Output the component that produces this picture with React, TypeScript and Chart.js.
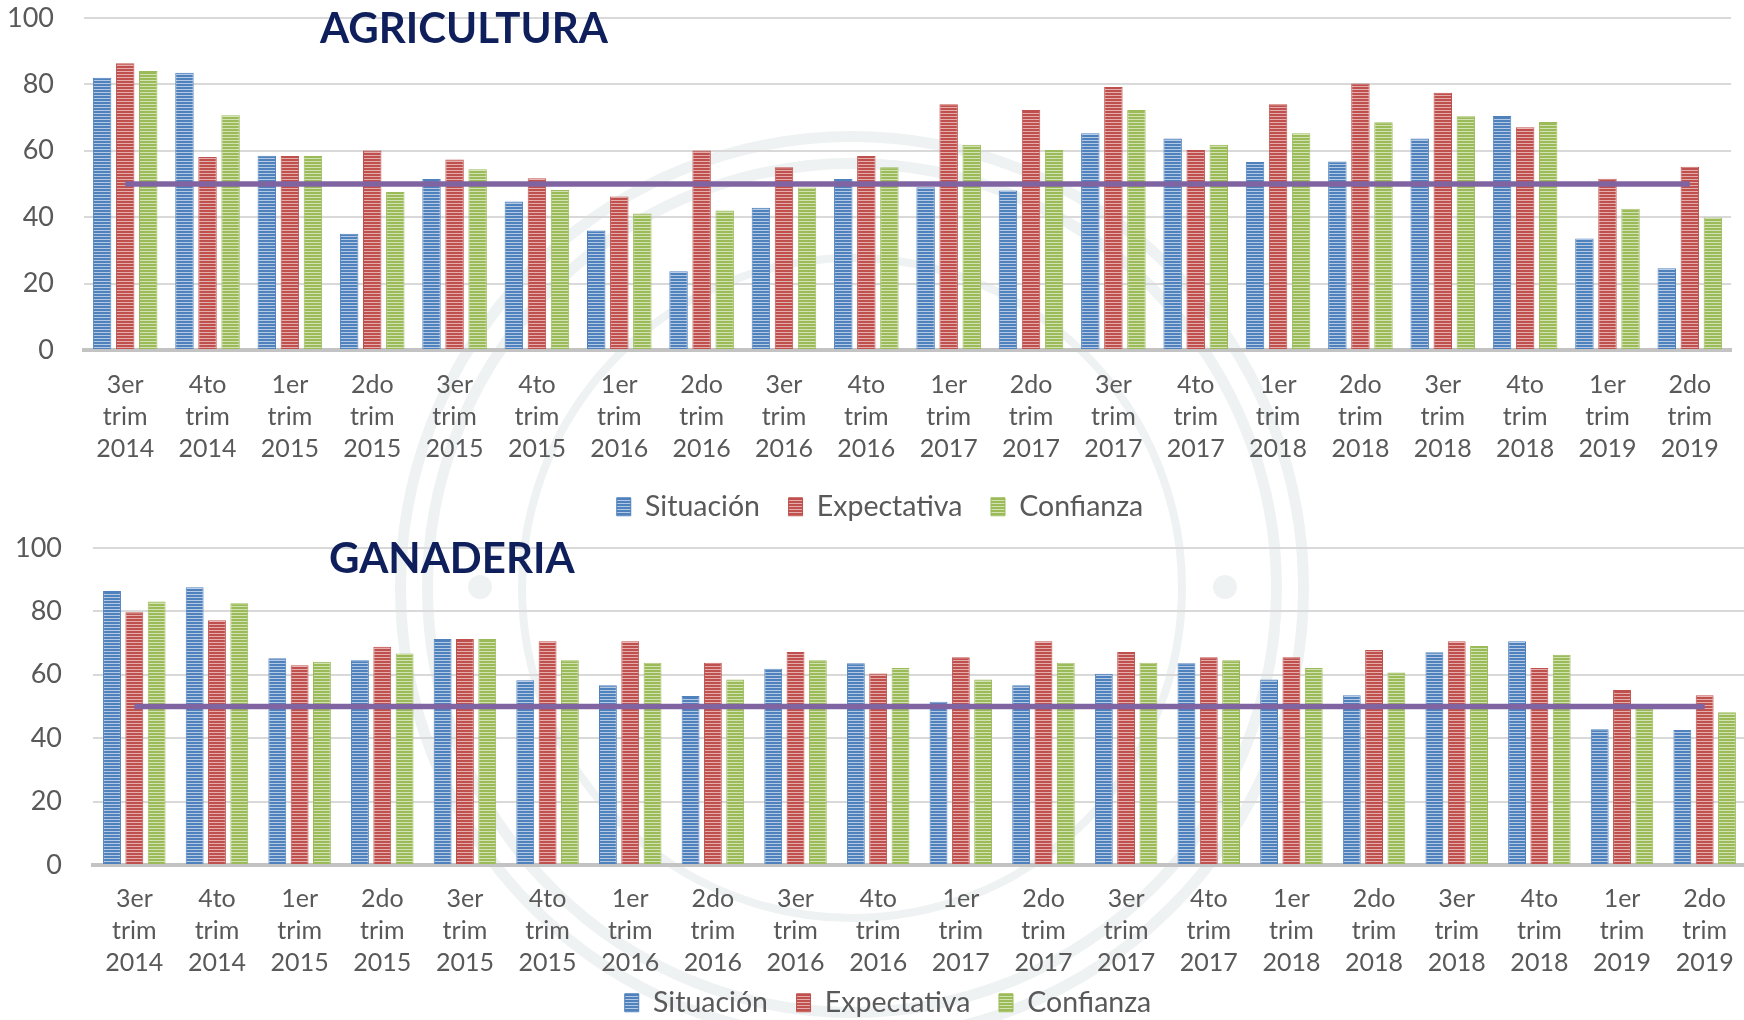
import React, { useEffect, useRef } from "react";
import { Chart, registerables } from "chart.js";

Chart.register(...registerables);

// ---------- DATA ----------
const categories: string[][] = [
  ["3er", "trim", "2014"], ["4to", "trim", "2014"],
  ["1er", "trim", "2015"], ["2do", "trim", "2015"], ["3er", "trim", "2015"], ["4to", "trim", "2015"],
  ["1er", "trim", "2016"], ["2do", "trim", "2016"], ["3er", "trim", "2016"], ["4to", "trim", "2016"],
  ["1er", "trim", "2017"], ["2do", "trim", "2017"], ["3er", "trim", "2017"], ["4to", "trim", "2017"],
  ["1er", "trim", "2018"], ["2do", "trim", "2018"], ["3er", "trim", "2018"], ["4to", "trim", "2018"],
  ["1er", "trim", "2019"], ["2do", "trim", "2019"],
];

const seriesNames = ["Situación", "Expectativa", "Confianza"];

const agriSituacion = [82, 83.5, 58.5, 35, 51.5, 44.7, 36, 23.7, 42.8, 51.5, 49, 48, 65.3, 63.7, 56.6, 56.8, 63.7, 70.5, 33.6, 24.6];
const agriExpectativa = [86.4, 58.1, 58.4, 60.1, 57.4, 51.7, 46.2, 60.1, 55, 58.4, 74, 72.3, 79.2, 60.2, 74, 80.3, 77.5, 67.1, 51.6, 55.2];
const agriConfianza = [84, 70.7, 58.4, 47.6, 54.4, 48.2, 41.1, 42, 48.9, 55, 61.8, 60.2, 72.3, 61.8, 65.3, 68.6, 70.4, 68.7, 42.5, 39.9];

const ganSituacion = [86.4, 87.6, 65.2, 64.6, 71.3, 58.3, 56.7, 53.3, 61.9, 63.6, 51.5, 56.7, 60.3, 63.6, 58.5, 53.5, 67.1, 70.6, 42.8, 42.6];
const ganExpectativa = [79.7, 77.2, 63, 68.8, 71.3, 70.6, 70.6, 63.8, 67.2, 60.4, 65.5, 70.6, 67.2, 65.5, 65.5, 67.8, 70.6, 62.1, 55.2, 53.5];
const ganConfianza = [83.1, 82.6, 64.1, 66.7, 71.3, 64.6, 63.8, 58.5, 64.6, 62.1, 58.5, 63.8, 63.8, 64.6, 62.1, 60.7, 69.1, 66.3, 49.3, 48.2];

const referenceLevel = 50;

// ---------- STYLE ----------
const FONT = "Lato, 'Open Sans', sans-serif";
const TEXT_GRAY = "#595959";
const COLORS = [
  { base: "#4F81BD", light: "#B3C9E4" },
  { base: "#C0504D", light: "#E4AEAC" },
  { base: "#9BBB59", light: "#D3E2B4" },
];
const LINE_COLOR = "#8064A2";

function stripe(base: string, light: string): CanvasPattern | string {
  const c = document.createElement("canvas");
  c.width = 4;
  c.height = 3;
  const ctx = c.getContext("2d");
  if (!ctx) return base;
  ctx.fillStyle = base;
  ctx.fillRect(0, 0, 4, 3);
  ctx.fillStyle = light;
  ctx.fillRect(0, 2, 4, 1);
  return ctx.createPattern(c, "repeat") || base;
}

const panelTitlePlugin = {
  id: "panelTitle",
  afterDraw(chart: any, _args: any, opts: any) {
    if (!opts || !opts.text) return;
    const { ctx, chartArea } = chart;
    ctx.save();
    ctx.font = `bold 42px ${FONT}`;
    ctx.fillStyle = "#0E1F5B";
    ctx.textBaseline = "alphabetic";
    ctx.textAlign = "left";
    ctx.fillText(opts.text, chartArea.left + opts.dx, chartArea.top + opts.dy);
    ctx.restore();
  },
};

const legendShiftPlugin = {
  id: "legendShift",
  afterLayout(chart: any, _args: any, opts: any) {
    const lg = chart.legend;
    if (!lg || !opts) return;
    lg.left += opts.dx || 0;
    lg.right += opts.dx || 0;
    lg.top += opts.dy || 0;
    lg.bottom += opts.dy || 0;
  },
};

interface PanelCfg {
  title: string;
  values: number[][];
  padding: { top: number; left: number; right: number; bottom: number };
  yWidth: number;
  yGap: number;
  xGap: number;
  catPct: number;
  legendDx: number;
  legendDy: number;
}

function buildConfig(cfg: PanelCfg): any {
  const bars = cfg.values.map((vals, i) => ({
    type: "bar",
    label: seriesNames[i],
    data: vals,
    backgroundColor: stripe(COLORS[i].base, COLORS[i].light),
    borderColor: COLORS[i].base,
    borderWidth: 1,
    order: 2,
    barPercentage: 0.8,
    categoryPercentage: cfg.catPct,
  }));
  const line = {
    type: "line",
    label: "ref",
    data: categories.map(() => referenceLevel),
    borderColor: LINE_COLOR,
    backgroundColor: LINE_COLOR,
    borderWidth: 5.5,
    pointRadius: 0,
    fill: false,
    order: 0,
  };
  return {
    type: "bar",
    data: { labels: categories, datasets: [...bars, line] },
    plugins: [panelTitlePlugin, legendShiftPlugin],
    options: {
      animation: false,
      responsive: false,
      maintainAspectRatio: false,
      layout: { padding: cfg.padding },
      plugins: {
        tooltip: { enabled: false },
        title: { display: false },
        panelTitle: { text: cfg.title, dx: 236, dy: 25 },
        legendShift: { dx: cfg.legendDx, dy: cfg.legendDy },
        legend: {
          position: "bottom",
          labels: {
            filter: (item: any) => item.datasetIndex < 3,
            boxWidth: 14,
            boxHeight: 18,
            padding: 28.6,
            color: TEXT_GRAY,
            font: { family: FONT, size: 28.5 },
          },
        },
      },
      scales: {
        x: {
          grid: { display: false, drawTicks: true, tickLength: cfg.xGap, tickColor: "rgba(0,0,0,0)" },
          border: { display: true, color: "#C3C3C3", width: 4 },
          ticks: {
            color: TEXT_GRAY,
            font: { family: FONT, size: 25, lineHeight: 1.28 },
            padding: 0,
            maxRotation: 0,
            minRotation: 0,
            autoSkip: false,
          },
        },
        y: {
          min: 0,
          max: 100,
          grid: { color: "#D9D9D9", lineWidth: 2, drawTicks: true, tickLength: cfg.yGap, tickColor: "rgba(0,0,0,0)" },
          border: { display: false },
          ticks: {
            stepSize: 20,
            color: TEXT_GRAY,
            font: { family: FONT, size: 27, lineHeight: 1 },
            padding: 0,
          },
          afterFit: (s: any) => {
            s.width = cfg.yWidth;
          },
        },
      },
    },
  };
}

function Panel(props: { cfg: PanelCfg; width: number; height: number; top: number }) {
  const ref = useRef<HTMLCanvasElement | null>(null);
  useEffect(() => {
    if (!ref.current) return;
    const chart = new Chart(ref.current, buildConfig(props.cfg));
    return () => chart.destroy();
  }, []);
  return (
    <div style={{ position: "absolute", left: 0, top: props.top, width: props.width, height: props.height }}>
      <canvas ref={ref} width={props.width} height={props.height} style={{ width: props.width, height: props.height, display: "block" }} />
    </div>
  );
}

function Ring(props: { cx: number; cy: number; r: number; w: number }) {
  const { cx, cy, r, w } = props;
  return (
    <div
      style={{
        position: "absolute",
        left: cx - r,
        top: cy - r,
        width: 2 * r,
        height: 2 * r,
        boxSizing: "border-box",
        borderRadius: "50%",
        border: `${w}px solid #EEF2F2`,
      }}
    />
  );
}

function Dot(props: { cx: number; cy: number; r: number }) {
  const { cx, cy, r } = props;
  return (
    <div
      style={{
        position: "absolute",
        left: cx - r,
        top: cy - r,
        width: 2 * r,
        height: 2 * r,
        borderRadius: "50%",
        background: "#EEF2F2",
      }}
    />
  );
}

const topCfg: PanelCfg = {
  title: "AGRICULTURA",
  values: [agriSituacion, agriExpectativa, agriConfianza],
  padding: { top: 18, left: 0, right: 13, bottom: 0 },
  yWidth: 84,
  yGap: 30,
  xGap: 19,
  catPct: 0.84,
  legendDx: 14.5,
  legendDy: -1,
};

const bottomCfg: PanelCfg = {
  title: "GANADERIA",
  values: [ganSituacion, ganExpectativa, ganConfianza],
  padding: { top: 16, left: 0, right: 4, bottom: 0 },
  yWidth: 93,
  yGap: 31,
  xGap: 18,
  catPct: 0.81,
  legendDx: 15,
  legendDy: -19,
};

export default function App() {
  return (
    <div
      style={{
        position: "absolute",
        left: 0,
        top: 0,
        width: 1744,
        height: 1020,
        overflow: "hidden",
        background: "#FFFFFF",
      }}
    >
      <Ring cx={852} cy={588} r={457} w={11} />
      <Ring cx={852} cy={588} r={430} w={11} />
      <Ring cx={852} cy={588} r={334} w={8} />
      <Dot cx={480} cy={587} r={12} />
      <Dot cx={1225} cy={587} r={12} />
      <Panel cfg={topCfg} width={1744} height={532} top={0} />
      <Panel cfg={bottomCfg} width={1750} height={514} top={532} />
    </div>
  );
}
